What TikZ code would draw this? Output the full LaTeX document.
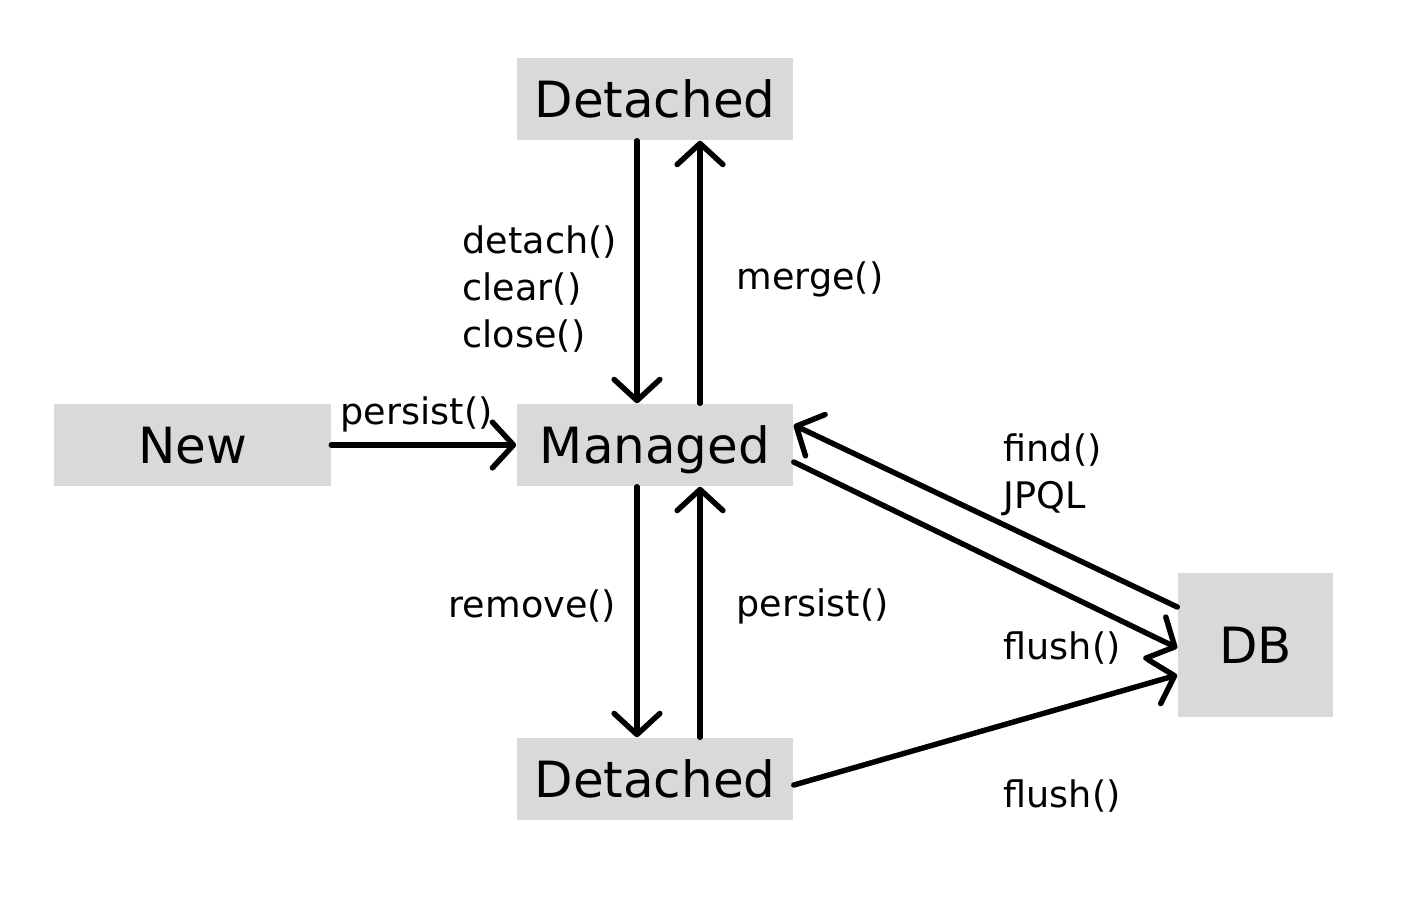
\documentclass[tikz,border=0pt]{standalone}
\usepackage{fontspec}
\setmainfont{DejaVu Sans}
\usetikzlibrary{arrows.meta}
\definecolor{boxgray}{HTML}{D9D9D9}
\begin{document}
\begin{tikzpicture}[x=0.01cm, y=-0.01cm,
        state/.style={fill=boxgray, draw=none, minimum width=2.76cm, minimum height=0.82cm, inner sep=0pt, text height=12.6pt, text depth=2.3pt, font=\fontsize{14.2}{17}\selectfont},
        lbl/.style={anchor=west, align=left, inner sep=0pt, font=\fontsize{10.4}{13.3}\selectfont},
        trans/.style={line width=1.55pt, line cap=round, -{Straight Barb[length=6pt, width=13pt, round]}}]
        \useasboundingbox (0, 0) rectangle (1418, 896);

        \node[state](DetachedTop) at (655, 99){Detached};
        \node[state](New) at (192.5, 445){New};
        \node[state](Managed) at (655, 445){Managed};
        \node[state](DetachedBot) at (655, 779){Detached};
        \node[state, minimum width=1.55cm, minimum height=1.44cm](DB) at (1255.5, 645){DB};

        \draw[trans]([xshift=-0.18cm]DetachedTop.south) -- ([xshift=-0.18cm]Managed.north);
        \draw[trans]([xshift=0.45cm]Managed.north) -- ([xshift=0.45cm]DetachedTop.south);
        \draw[trans](New.east) -- (Managed.west);
        \draw[trans]([xshift=-0.18cm]Managed.south) -- ([xshift=-0.18cm]DetachedBot.north);
        \draw[trans]([xshift=0.45cm]DetachedBot.north) -- ([xshift=0.45cm]Managed.south);
        \draw[trans]([yshift=0.38cm]DB.west) -- ([yshift=0.2cm]Managed.east);
        \draw[trans]([yshift=-0.17cm]Managed.east) -- ([yshift=-0.03cm]DB.west);
        \draw[trans]([yshift=-0.06cm]DetachedBot.east) -- ([yshift=-0.3cm]DB.west);

        \node[lbl](detachLbl) at (462, 289){detach()\\clear()\\close()};
        \node[lbl](mergeLbl) at (736, 279){merge()};
        \node[lbl](persistTop) at (340, 414){persist()};
        \node[lbl](findLbl) at (1003, 475){find()\\JPQL};
        \node[lbl](removeLbl) at (448, 606){remove()};
        \node[lbl](persistBot) at (736, 606){persist()};
        \node[lbl](flushMid) at (1003, 648){flush()};
        \node[lbl](flushBot) at (1003, 796){flush()};
    \end{tikzpicture}
\end{document}
